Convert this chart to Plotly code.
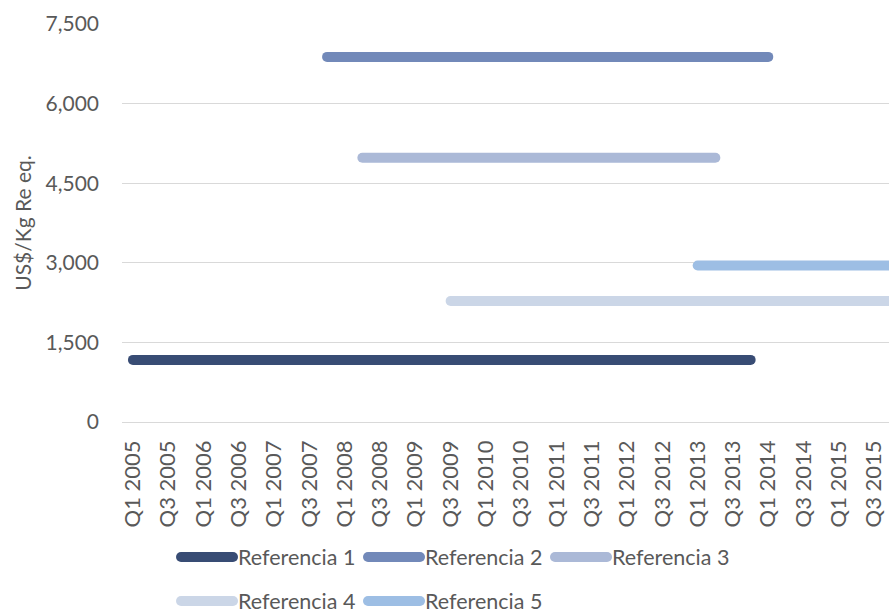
import plotly.graph_objects as go

# Quarterly category axis, Q1 2005 .. Q4 2015
years = list(range(2005, 2016))
quarters = [f"Q{q} {y}" for y in years for q in (1, 2, 3, 4)]
tick_labels = quarters[::2]

# Price references (US$/Kg Re eq.) valid over a range of quarters
series_names = ["Referencia 1", "Referencia 2", "Referencia 3", "Referencia 4", "Referencia 5"]
start_quarter = ["Q1 2005", "Q4 2007", "Q2 2008", "Q3 2009", "Q1 2013"]
end_quarter = ["Q4 2013", "Q1 2014", "Q2 2013", "Q4 2015", "Q4 2015"]
price = [1170, 6880, 4980, 2280, 2950]

colors = ["#384C74", "#7289B9", "#ABB9D7", "#CBD6E7", "#9DBEE4"]
legend_ids = ["legend", "legend", "legend", "legend2", "legend2"]

FONT = "Lato"
TXT = "#595959"
GRID = "#D9D9D9"

fig = go.Figure()
for name, s, e, v, c, lg in zip(series_names, start_quarter, end_quarter, price, colors, legend_ids):
    fig.add_trace(go.Scatter(
        x=[s, e], y=[v, v], name=name, mode="lines",
        line=dict(color=c, width=10), legend=lg,
    ))

legend_common = dict(
    orientation="h", xanchor="left", yanchor="middle",
    xref="container", yref="container",
    font=dict(family=FONT, size=21.5, color=TXT),
    entrywidth=120, entrywidthmode="pixels", itemwidth=52,
    bgcolor="rgba(0,0,0,0)",
)

fig.update_layout(
    width=889, height=613,
    margin=dict(l=122, r=0, t=24, b=191, autoexpand=False),
    paper_bgcolor="white", plot_bgcolor="white",
    font=dict(family=FONT, size=21, color=TXT),
    xaxis=dict(
        type="category", categoryorder="array", categoryarray=quarters,
        range=[-0.62, 42.84], automargin=False,
        tickmode="array", tickvals=tick_labels, ticktext=tick_labels,
        tickangle=-90, showgrid=False, zeroline=False, showline=False,
        ticks="", ticklabelstandoff=13,
        tickfont=dict(family=FONT, size=22, color=TXT),
    ),
    yaxis=dict(
        range=[0, 7500], tickvals=[0, 1500, 3000, 4500, 6000, 7500],
        tickformat=",", showgrid=True, gridcolor=GRID, gridwidth=1.3,
        zeroline=True, zerolinecolor=GRID, zerolinewidth=1.3,
        ticks="", ticklabelstandoff=22, automargin=False,
        tickfont=dict(family=FONT, size=21, color=TXT),
        title=dict(text="US$/Kg Re eq.", standoff=8,
                   font=dict(family=FONT, size=21, color=TXT)),
    ),
    legend=dict(x=0.198, y=0.0914, **legend_common),
    legend2=dict(x=0.198, y=0.0196, **legend_common),
)

round_caps = """
document.querySelectorAll('.scatterlayer .js-line, .legendlines path').forEach(function(p){
  p.style.strokeLinecap = 'round';
});
"""
fig.write_html("out.html", post_script=round_caps)
